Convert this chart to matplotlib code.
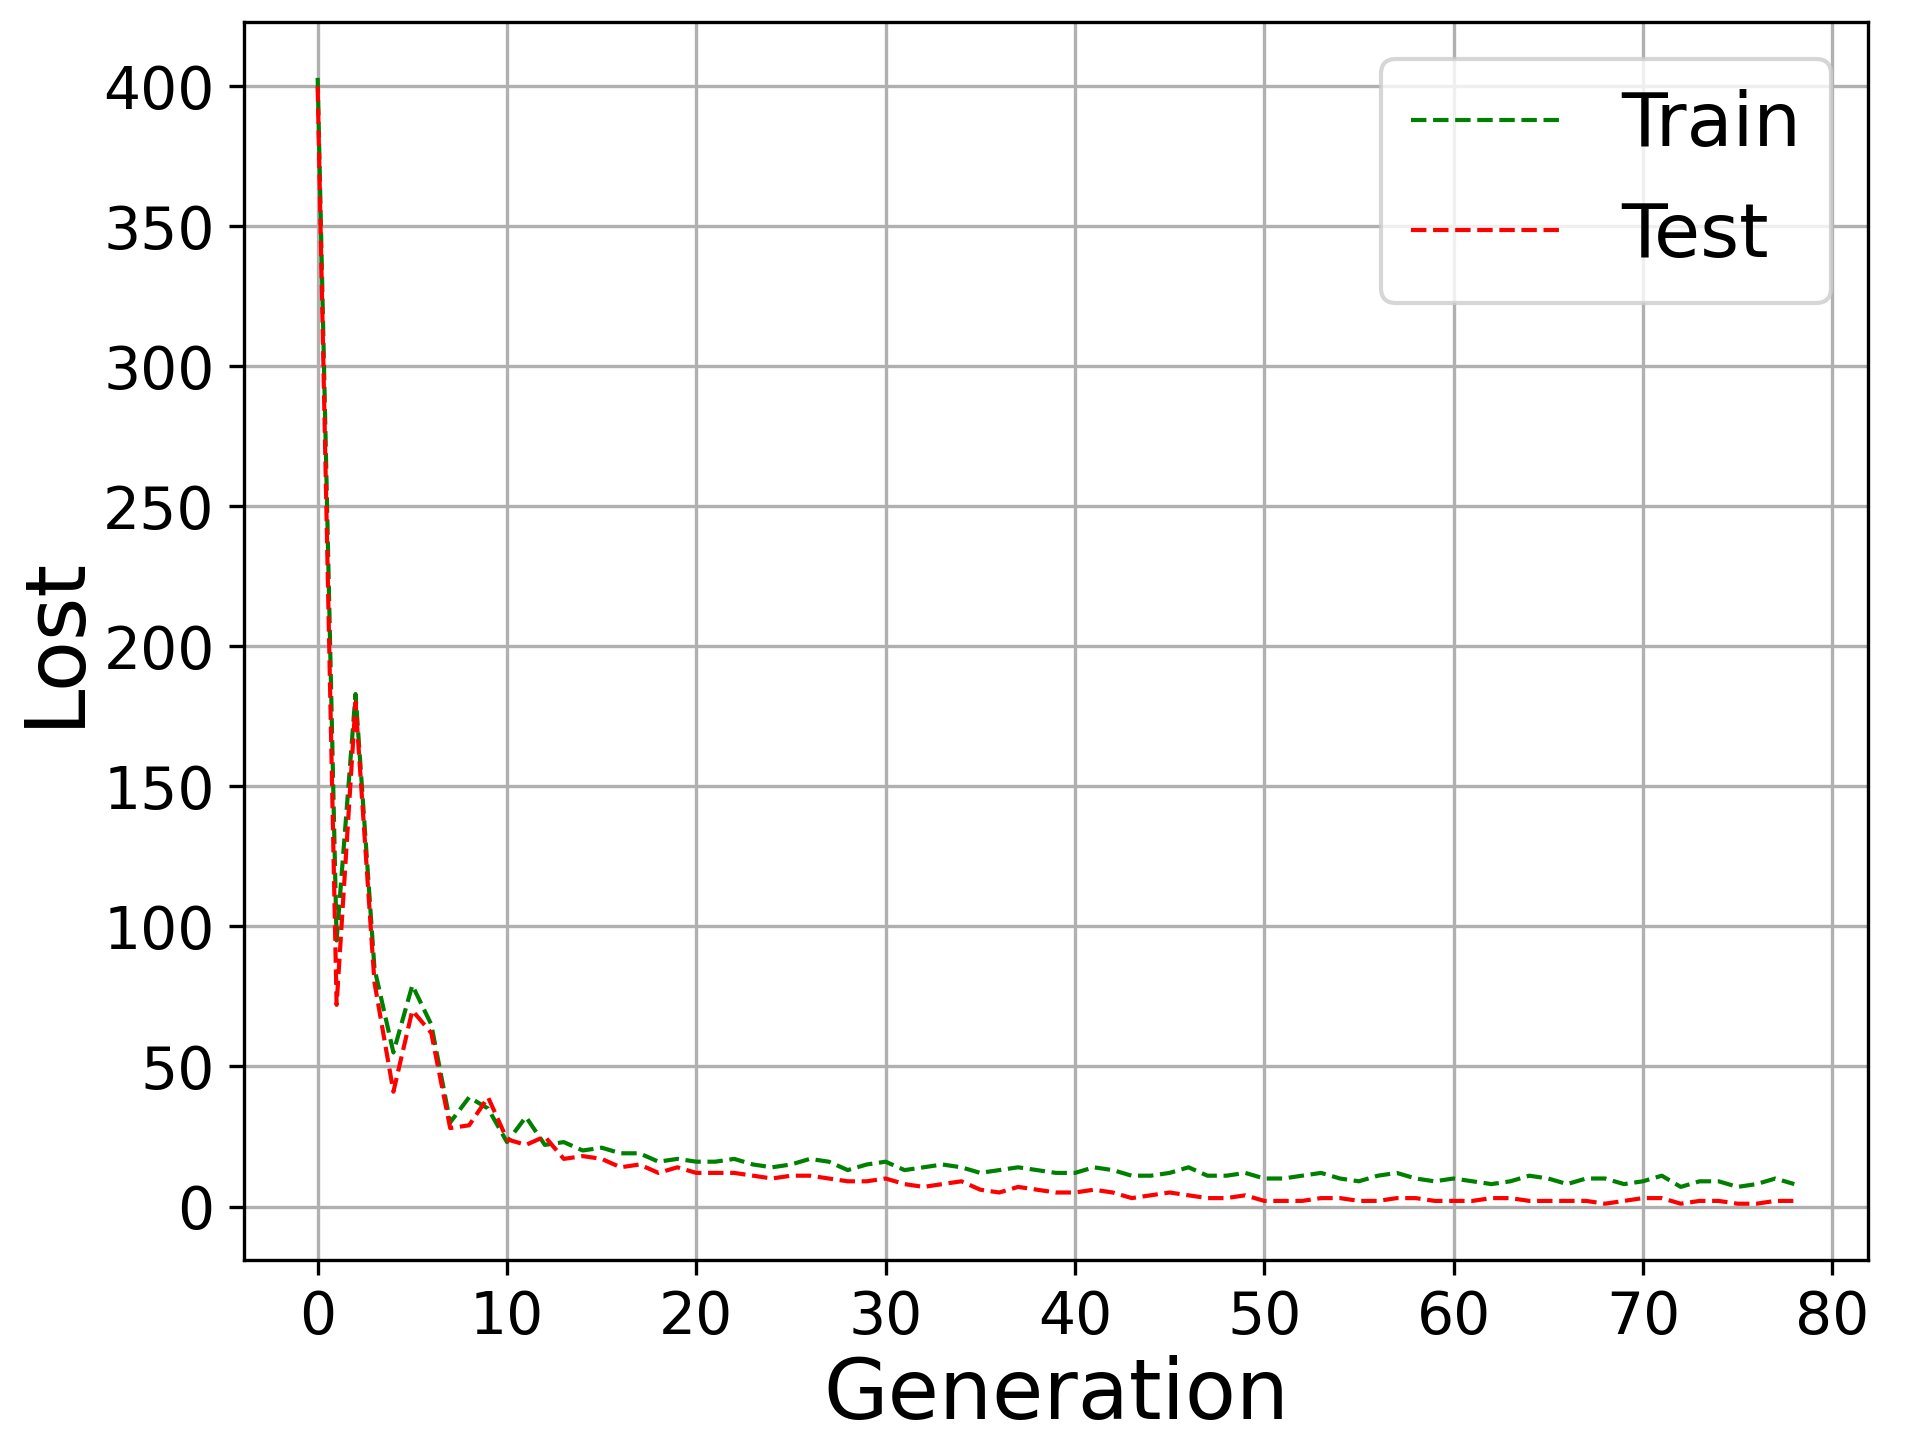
import matplotlib
matplotlib.use('Agg')
import matplotlib.pyplot as plt
import numpy as np

generation = np.arange(79)

train_loss = [403, 95, 183, 85, 55, 79, 65, 30, 39, 35,
              23, 32, 22, 23, 20, 21, 19, 19, 16, 17,
              16, 16, 17, 15, 14, 15, 17, 16, 13, 15,
              16, 13, 14, 15, 14, 12, 13, 14, 13, 12,
              12, 14, 13, 11, 11, 12, 14, 11, 11, 12,
              10, 10, 11, 12, 10, 9, 11, 12, 10, 9,
              10, 9, 8, 9, 11, 10, 8, 10, 10, 8,
              9, 11, 7, 9, 9, 7, 8, 10, 8]
test_loss = [400, 72, 180, 80, 41, 70, 62, 28, 29, 39,
             24, 22, 25, 17, 18, 17, 14, 15, 12, 14,
             12, 12, 12, 11, 10, 11, 11, 10, 9, 9,
             10, 8, 7, 8, 9, 6, 5, 7, 6, 5,
             5, 6, 5, 3, 4, 5, 4, 3, 3, 4,
             2, 2, 2, 3, 3, 2, 2, 3, 3, 2,
             2, 2, 3, 3, 2, 2, 2, 2, 1, 2,
             3, 3, 1, 2, 2, 1, 1, 2, 2]

fig, ax = plt.subplots(figsize=(6.4, 4.8), dpi=300)
ax.plot(generation, train_loss, 'g--', linewidth=1, label='Train')
ax.plot(generation, test_loss, 'r--', linewidth=1, label='Test')
ax.set_xlabel('Generation', fontsize=20, labelpad=2)
ax.set_ylabel('Lost', fontsize=20, labelpad=2)
ax.tick_params(labelsize=14)
ax.set_xticks(range(0, 81, 10))
ax.grid(True)
ax.legend(fontsize=18, loc='upper right')
fig.subplots_adjust(left=0.127, right=0.973, top=0.985, bottom=0.125)
fig.savefig('out.png')
